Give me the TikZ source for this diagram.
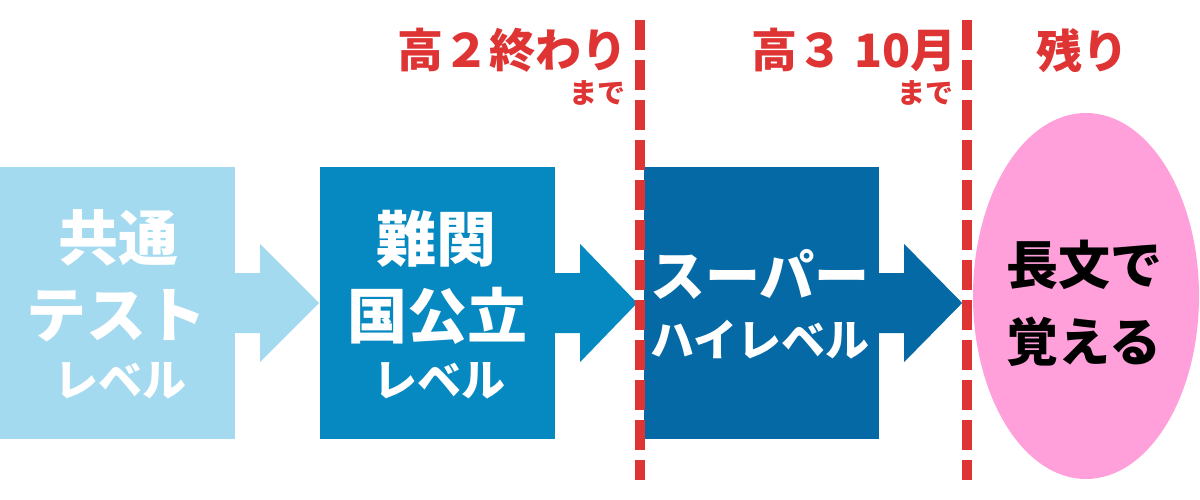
\documentclass[tikz,border=0pt]{standalone}
\usepackage{fontspec}
\newfontfamily\cjk{Noto Sans CJK JP}
\usetikzlibrary{calc,shapes.geometric}
\definecolor{lblue}{HTML}{A4DAF0}
\definecolor{mblue}{HTML}{0689C0}
\definecolor{dblue}{HTML}{0569A6}
\definecolor{cred}{HTML}{DF3434}
\definecolor{cpink}{HTML}{FFA0DB}
\tikzset{
  box/.style={rectangle, minimum width=235pt, minimum height=272pt, inner sep=0pt, draw=none},
  txt/.style={inner sep=0pt, font=\cjk\bfseries},
  big/.style={txt, font=\cjk\bfseries\fontsize{60}{60}\selectfont},
  mid/.style={txt, font=\cjk\bfseries\fontsize{44}{44}\selectfont},
  top/.style={txt, text=cred, font=\cjk\bfseries\fontsize{46}{46}\selectfont},
  sml/.style={txt, text=cred, font=\cjk\bfseries\fontsize{28}{28}\selectfont},
  sep/.style={cred, line width=10pt, dash pattern=on 30pt off 10pt}
}
\begin{document}
\begin{tikzpicture}[x=1pt,y=-1pt]
\useasboundingbox (0,0) rectangle (1200,500);
% boxes
\node[box, fill=lblue] (b1) at (117.5,303) {};
\node[box, fill=mblue] (b2) at (437.5,303) {};
\node[box, fill=dblue] (b3) at (761.5,303) {};
\node[ellipse, fill=cpink, minimum width=226pt, minimum height=366pt, inner sep=0pt] (e) at (1086,296) {};
% block arrows
\fill[lblue] ($(b1.east)+(0,-30)$) -- ++(25,0) -- ++(0,-29) -- ++(59,59) -- ++(-59,59) -- ++(0,-29) -- ++(-25,0) -- cycle;
\fill[mblue] ($(b2.east)+(0,-30)$) -- ++(25,0) -- ++(0,-29) -- ++(57,59) -- ++(-57,59) -- ++(0,-29) -- ++(-25,0) -- cycle;
\fill[dblue] ($(b3.east)+(0,-30)$) -- ++(25,0) -- ++(0,-29) -- ++(58,59) -- ++(-58,59) -- ++(0,-29) -- ++(-25,0) -- cycle;
% box texts
\node[big, text=white] (t1a) at (118,238) {共通};
\node[big, text=white] (t1b) at (117,316) {テスト};
\node[mid, text=white] (t1c) at (120,381) {レベル};
\node[big, text=white] (t2a) at (436,239) {難関};
\node[big, text=white] (t2b) at (437,316) {国公立};
\node[mid, text=white] (t2c) at (439,381) {レベル};
\node[txt, text=white, font=\cjk\bfseries\fontsize{55}{55}\selectfont] (t3a) at (760,274) {スーパー};
\node[mid, text=white] (t3b) at (760,340) {ハイレベル};
\node[txt, text=black, font=\cjk\bfseries\fontsize{52}{52}\selectfont] (t4a) at (1084,265) {長文で};
\node[txt, text=black, font=\cjk\bfseries\fontsize{52}{52}\selectfont] (t4b) at (1084,342) {覚える};
% top labels
\node[top] (l1) at (512,50) {高２終わり};
\node[sml] (l1s) at (597,93) {まで};
\node[top] (l2) at (854,50) {高３ 10月};
\node[sml] (l2s) at (925,93) {まで};
\node[top] (l3) at (1082,51) {残り};
% separators
\coordinate (s1a) at (640,20);
\coordinate (s1b) at (640,480);
\coordinate (s2a) at (967,20);
\coordinate (s2b) at (967,480);
\draw[sep] (s1a) -- (s1b);
\draw[sep] (s2a) -- (s2b);
\end{tikzpicture}
\end{document}
